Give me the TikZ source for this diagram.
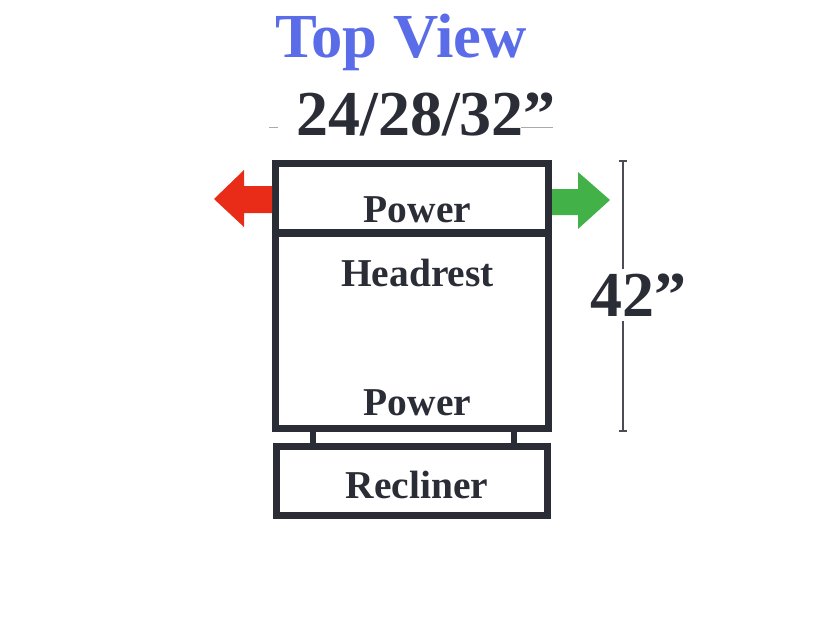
\documentclass[tikz,border=0pt]{standalone}
\usepackage{fontspec}
\setmainfont{Liberation Serif}
\tikzset{
  frameline/.style={draw={rgb, 255:red, 43; green, 45; blue, 54 }, line width=5.2pt},
  dimline/.style={draw={rgb, 255:red, 75; green, 76; blue, 84 }, line width=1pt},
  thinline/.style={draw={rgb, 255:red, 170; green, 170; blue, 170 }, line width=0.7pt},
  boxtext/.style={text={rgb, 255:red, 43; green, 45; blue, 54 }, font=\bfseries\fontsize{29.6}{30}\selectfont, inner sep=0.75pt},
  bigtext/.style={text={rgb, 255:red, 43; green, 45; blue, 54 }, font=\bfseries\fontsize{48}{48}\selectfont, inner sep=0.75pt},
}
\begin{document}
\begin{tikzpicture}[x=0.75pt,y=0.75pt,yscale=-1,xscale=1]
\useasboundingbox (0,0) rectangle (825,625);

%Shape: Rectangle
\node (powerbox) [frameline, minimum width=204.75pt, minimum height=52.1pt, inner sep=0pt] at (412,198.2) {};
\node (headbox) [frameline, minimum width=204.75pt, minimum height=146.6pt, inner sep=0pt] at (412,330.8) {};
\node (reclinerbox) [frameline, minimum width=203pt, minimum height=51.75pt, inner sep=0pt] at (411.7,481) {};

%Straight Lines
\draw [frameline] (313,0 |- headbox.south) -- (313,0 |- reclinerbox.north) ;
\draw [frameline] (514,0 |- headbox.south) -- (514,0 |- reclinerbox.north) ;

%Shape: Arrow
\fill [color={rgb, 255:red, 232; green, 44; blue, 24 }] (272,186) -- (244,186) -- (244,170) -- (214,199) -- (244,227) -- (244,213) -- (272,213) -- cycle ;
\fill [color={rgb, 255:red, 66; green, 178; blue, 72 }] (552,189) -- (578,189) -- (578,172) -- (610,200) -- (578,229) -- (578,215) -- (552,215) -- cycle ;

% Text Node
\node (title) [font=\bfseries\fontsize{47}{47}\selectfont, text={rgb, 255:red, 90; green, 108; blue, 232 }, inner sep=0.75pt] at (401,42) {Top View};
\node (width) [bigtext] at (426,115) {24/28/32”};
\node (depth) [bigtext, inner ysep=3.5pt] at (638,295) {42”};
\node (powertop) [boxtext] at (417.5,210) {Power};
\node (headrest) [boxtext] at (417.5,273) {Headrest};
\node (powerlow) [boxtext] at (417.5,403) {Power};
\node (recliner) [boxtext] at (417,485) {Recliner};

%Straight Lines
\coordinate (depthtop) at (623,161);
\coordinate (depthlow) at (623,431);
\coordinate (widthleft) at (269,127);
\coordinate (widthright) at (553,127);
\draw [dimline] (depthtop) -- (depth.north -| depthtop) ;
\draw [dimline] (depth.south -| depthtop) -- (depthlow) ;
\draw [dimline] ([xshift=-3pt]depthtop) -- ([xshift=3pt]depthtop) ;
\draw [dimline] ([xshift=-3pt]depthlow) -- ([xshift=3pt]depthlow) ;
\draw [thinline] (widthleft) -- ([xshift=7pt]widthleft) ;
\draw [thinline] ([xshift=-24pt]widthright) -- (widthright) ;
\end{tikzpicture}
\end{document}
